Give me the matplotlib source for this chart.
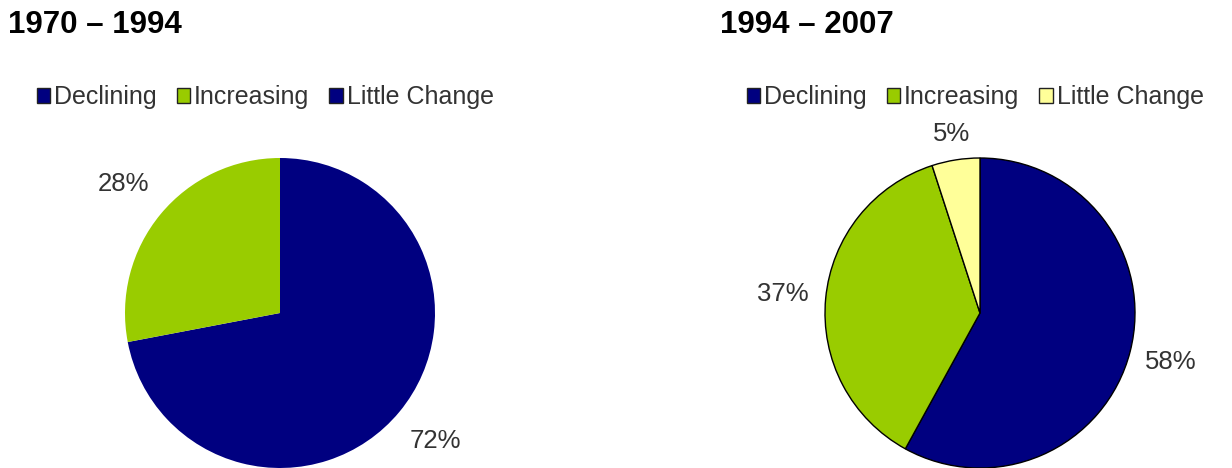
import matplotlib
matplotlib.use("Agg")
import numpy as np
import matplotlib.pyplot as plt
from matplotlib.patches import Patch

plt.rcParams['font.family'] = ['Liberation Sans', 'DejaVu Sans']

categories = ["Declining", "Increasing", "Little Change"]
titles = ["1970 \u2013 1994", "1994 \u2013 2007"]
values_1970_1994 = [72, 28, 0]
values_1994_2007 = [58, 37, 5]
colors_left = ["#000080", "#99CC00", "#000080"]
colors_right = ["#000080", "#99CC00", "#FFFF99"]

# label distance from centre (in radii), per wedge
label_dist_left = [1.30, 1.31, 1.30]
label_dist_right = [1.27, 1.28, 1.17]

W, H = 1232, 468
fig = plt.figure(figsize=(W / 100, H / 100), dpi=100)

def pct(v):
    return "" if v < 0.5 else f"{v:.0f}%"

def make_pie(cx, cy, r, vals, cols, edge, dists):
    ax = fig.add_axes([(cx - r) / W, (H - cy - r) / H, 2 * r / W, 2 * r / H])
    wedges, texts, autotexts = ax.pie(
        vals, colors=cols, startangle=90, counterclock=False,
        autopct=pct, pctdistance=1.28,
        wedgeprops=dict(edgecolor="black" if edge else "none", linewidth=1.0),
        textprops=dict(fontsize=18.5, color="#333333"))
    for w, t, d in zip(wedges, autotexts, dists):
        ang = np.deg2rad((w.theta1 + w.theta2) / 2)
        t.set_position((d * np.cos(ang), d * np.sin(ang)))
    ax.set_xlim(-1, 1)
    ax.set_ylim(-1, 1)
    ax.set_aspect("auto")
    ax.axis("off")
    return ax

make_pie(280, 313, 155, values_1970_1994, colors_left, False, label_dist_left)
make_pie(980, 313, 155, values_1994_2007, colors_right, True, label_dist_right)

fig.text(8 / W, 1 - 25 / H, titles[0], fontsize=22.5, fontweight="bold", va="center", ha="left")
fig.text(720 / W, 1 - 25 / H, titles[1], fontsize=22.5, fontweight="bold", va="center", ha="left")

def make_legend(x, cols):
    handles = [Patch(facecolor=c, edgecolor="#222222", linewidth=1.0) for c in cols]
    fig.legend(handles, categories, loc="center left", bbox_to_anchor=(x / W, 1 - 97 / H),
               ncol=3, frameon=False, fontsize=18, handlelength=0.55, handleheight=0.55,
               handletextpad=0.15, columnspacing=0.8, borderpad=0, labelcolor="#333333")

make_legend(24, colors_left)
make_legend(734, colors_right)

fig.savefig("out.png", dpi=100)
